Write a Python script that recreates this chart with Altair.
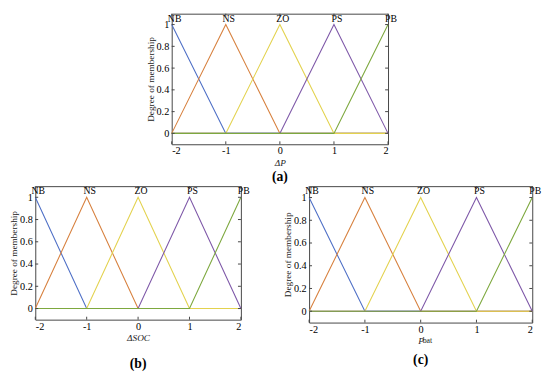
import altair as alt
import pandas as pd

# ---- data ----
x_vals = [-2, -1, 0, 1, 2]
mf_names = ["NB", "NS", "ZO", "PS", "PB"]
NB = [1, 0, 0, 0, 0]
NS = [0, 1, 0, 0, 0]
ZO = [0, 0, 1, 0, 0]
PS = [0, 0, 0, 1, 0]
PB = [0, 0, 0, 0, 1]
mf_values = [NB, NS, ZO, PS, PB]
mf_colors = ["#4E6FC6", "#D7803E", "#E3D24E", "#7E58A8", "#7DA83E"]
y_ticks = [0, 0.2, 0.4, 0.6, 0.8, 1]
label_y = 1.055
y_title = "Degree of membership"

SERIF = "Liberation Serif"
FRAME = "#444444"


def panel(w, h, xtitle, plabel, label_offset, sub=None):
    xs = alt.Scale(domain=[-2, 2], nice=False, zero=False)
    ys = alt.Scale(domain=[-0.1, 1.1], nice=False, zero=False)
    xaxis = alt.Axis(values=x_vals, labelExpr="'' + datum.value", title=xtitle,
                     titleFontStyle="italic")
    yaxis = alt.Axis(values=y_ticks, labelExpr="'' + datum.value", title=y_title,
                     labelPadding=3)
    X = alt.X("x:Q", scale=xs, axis=xaxis)
    Y = alt.Y("y:Q", scale=ys, axis=yaxis)

    layers = []
    for name, vals, col in zip(mf_names, mf_values, mf_colors):
        df = pd.DataFrame({"x": x_vals, "y": vals})
        layers.append(alt.Chart(df).mark_line(color=col, strokeWidth=1.1).encode(x=X, y=Y))

    lab = pd.DataFrame({"x": x_vals, "y": [label_y] * len(x_vals), "t": mf_names})
    layers.append(alt.Chart(lab).mark_text(font=SERIF, fontSize=10, color="black",
                                           baseline="middle", align="center", dx=3)
                  .encode(x=X, y=Y, text="t:N"))

    xt = pd.DataFrame({"x": x_vals})
    yt = pd.DataFrame({"y": y_ticks})
    layers.append(alt.Chart(xt).mark_rule(color=FRAME).encode(x=X, y=alt.value(h), y2=alt.value(h - 3)))
    layers.append(alt.Chart(xt).mark_rule(color=FRAME).encode(x=X, y=alt.value(0), y2=alt.value(3)))
    layers.append(alt.Chart(yt).mark_rule(color=FRAME).encode(y=Y, x=alt.value(0), x2=alt.value(3)))
    layers.append(alt.Chart(yt).mark_rule(color=FRAME).encode(y=Y, x=alt.value(w), x2=alt.value(w - 3)))

    if sub is not None:
        sd = pd.DataFrame({"t": [sub]})
        layers.append(alt.Chart(sd).mark_text(font=SERIF, fontSize=8, color="#222",
                                              align="left", baseline="middle")
                      .encode(x=alt.value(w / 2 + 2), y=alt.value(h + 19), text="t:N"))

    return alt.layer(*layers).properties(
        width=w, height=h,
        title=alt.TitleParams(text=plabel, orient="bottom", font=SERIF, fontSize=14,
                              fontWeight="bold", color="black", offset=label_offset),
    )


def spacer(w):
    d = pd.DataFrame({"t": [0]})
    return alt.Chart(d).mark_rule(opacity=0).encode(
        x=alt.value(0), x2=alt.value(w), y=alt.value(0)
    ).properties(width=w, height=10, view=alt.ViewBackground(strokeOpacity=0))


pa = panel(222, 134, "ΔP", "(a)", 4)
pb = panel(211, 137, "ΔSOC", "(b)", 16)
pc = panel(229, 140, "P", "(c)", 8, sub="bat")

chart = alt.vconcat(
    alt.hconcat(spacer(112), pa, spacing=0),
    alt.hconcat(pb, pc, spacing=32),
    spacing=0,
).properties(
    padding={"left": 0, "top": 0, "right": 0, "bottom": 0},
).configure_view(
    stroke=FRAME, strokeWidth=1
).configure_axis(
    domain=False, ticks=False, tickSize=0, grid=False,
    labelFont=SERIF, labelFontSize=10.5, labelColor="black", labelPadding=2,
    titleFont=SERIF, titleFontSize=9.5, titleFontWeight="normal", titleColor="#222",
    titlePadding=1,
).configure_text(font=SERIF)

chart.save("out.html", embed_options={"renderer": "svg", "actions": False})
